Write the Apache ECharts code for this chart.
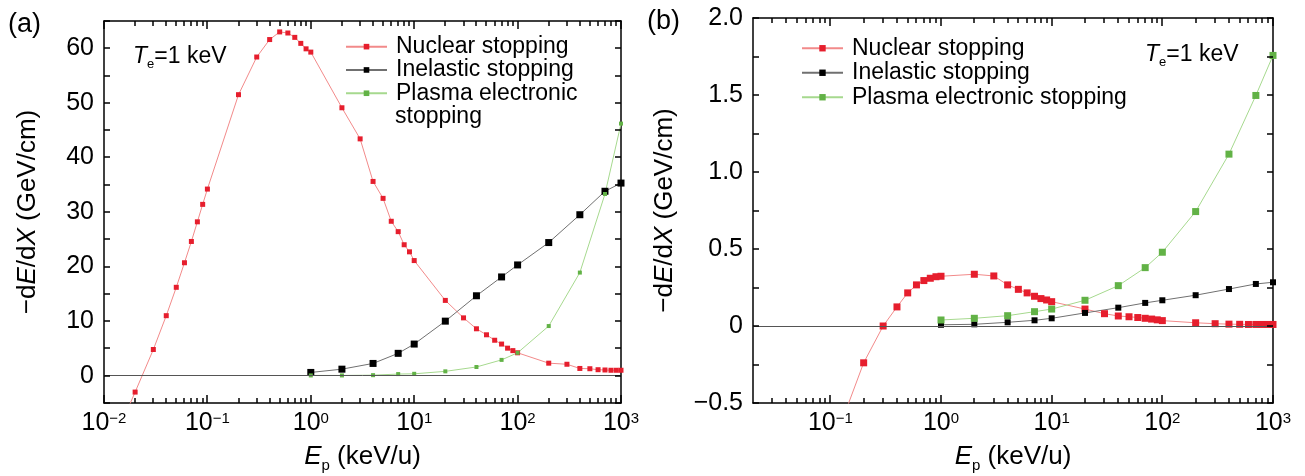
<!DOCTYPE html>
<html><head><meta charset="utf-8">
<script src="https://cdn.jsdelivr.net/npm/echarts@6/dist/echarts.min.js"></script>
<style>html,body{margin:0;padding:0;background:#fff}#c{width:1305px;height:476px}</style>
</head><body><div id="c"></div>
<script>
// ---------- Panel (a) data ----------
const aNucE = [0.01,0.02,0.03,0.04,0.05,0.06,0.07,0.08,0.09,0.1,0.2,0.3,0.4,0.5,0.6,0.7,0.8,0.9,1,2,3,4,5,6,7,8,9,10,20,30,40,50,60,70,80,90,100,200,300,400,500,600,700,800,900,1000];
const aNuc  = [-16,-3.0,4.8,11.0,16.2,20.7,24.6,28.2,31.4,34.2,51.5,58.4,61.6,63.0,62.8,62.0,60.9,59.9,59.3,49.1,43.4,35.6,32.5,28.3,26.4,24.0,22.7,21.1,13.8,10.6,8.6,7.5,6.5,5.8,5.05,4.6,4.2,2.3,2.1,1.33,1.28,1.1,1.05,1.0,1.0,1.0];
const aOthE = [1,2,4,7,10,20,40,70,100,200,400,700,1000];
const aInel = [0.6,1.2,2.25,4.1,5.8,10.0,14.65,18.1,20.3,24.4,29.5,33.8,35.3];
const aPlas = [0.05,0.05,0.1,0.3,0.35,0.8,1.6,2.9,4.2,9.1,18.9,33.3,46.2];
// ---------- Panel (b) data ----------
const bNucE = [0.1,0.2,0.3,0.4,0.5,0.6,0.7,0.8,0.9,1,2,3,4,5,6,7,8,9,10,20,30,40,50,60,70,80,90,100,200,300,400,500,600,700,800,900,1000];
const bNuc  = [-0.82,-0.239,0,0.124,0.215,0.267,0.295,0.31,0.32,0.323,0.336,0.325,0.267,0.238,0.215,0.193,0.178,0.169,0.158,0.11,0.08,0.065,0.06,0.055,0.05,0.045,0.04,0.035,0.021,0.015,0.012,0.011,0.01,0.01,0.01,0.01,0.01];
const bOthE = [1,2,4,7,10,20,40,70,100,200,400,700,1000];
const bInel = [0.008,0.011,0.024,0.037,0.05,0.085,0.119,0.15,0.167,0.2,0.24,0.273,0.284];
const bPlas = [0.039,0.05,0.067,0.093,0.11,0.167,0.262,0.379,0.479,0.743,1.116,1.497,1.757];
// ---------- tick values ----------
const xMajorA = [0.01,0.1,1,10,100,1000];
const xMajorB = [0.1,1,10,100,1000];
const xMinorA = [0.02,0.03,0.04,0.05,0.06,0.07,0.08,0.09,0.2,0.3,0.4,0.5,0.6,0.7,0.8,0.9,2,3,4,5,6,7,8,9,20,30,40,50,60,70,80,90,200,300,400,500,600,700,800,900];
const xMinorB = [0.03,0.04,0.05,0.06,0.07,0.08,0.09,0.2,0.3,0.4,0.5,0.6,0.7,0.8,0.9,2,3,4,5,6,7,8,9,20,30,40,50,60,70,80,90,200,300,400,500,600,700,800,900];
const yTicksA = [-5,0,5,10,15,20,25,30,35,40,45,50,55,60,65];
const yTicksB = [-0.5,-0.25,0,0.25,0.5,0.75,1.0,1.25,1.5,1.75,2.0];
const seriesNames = ['Nuclear stopping','Inelastic stopping','Plasma electronic stopping'];

const FONT = "'Liberation Sans', Arial, sans-serif";
const RED = '#e61e2d', RED_L = '#f28a8a';
const BLK = '#000000', BLK_L = '#707070';
const GRN = '#62b246', GRN_L = '#a6d98e';

const zip = (xs, ys) => xs.map((x, i) => [x, ys[i]]);

function pow10Label(v) {
  const e = Math.round(Math.log10(v));
  return '{n|10}{sup|' + (e < 0 ? '\u2212' + (-e) : String(e)) + '}';
}
const richX = {
  n: {fontSize: 25, lineHeight: 30, fontFamily: FONT, color: '#000'},
  sup: {fontSize: 15, lineHeight: 15, verticalAlign: 'top', fontFamily: FONT, color: '#000', padding: [3, 0, 0, 0]}
};
const nameRich = {
  n: {fontSize: 26, lineHeight: 32, fontFamily: FONT, color: '#000'},
  it: {fontSize: 26, lineHeight: 32, fontFamily: FONT, fontStyle: 'italic', color: '#000'},
  sub: {fontSize: 15, lineHeight: 16, verticalAlign: 'bottom', fontFamily: FONT, color: '#000'}
};
function axLine() { return {show: true, onZero: false, lineStyle: {color: '#000', width: 1.5}}; }

function xAxes(grid, min, max, majors) {
  return [
    {type: 'log', logBase: 10, gridIndex: grid, min: min, max: max, position: 'bottom',
     splitLine: {show: false}, axisLine: axLine(), axisTick: {show: false},
     axisLabel: {show: true, customValues: majors, margin: 5, formatter: pow10Label, rich: richX},
     name: '{it|E}{sub|p}{n| (keV/u)}', nameLocation: 'middle', nameGap: 38, nameTextStyle: {rich: nameRich}},
    {type: 'log', logBase: 10, gridIndex: grid, min: min, max: max, position: 'top',
     splitLine: {show: false}, axisLine: axLine(), axisTick: {show: false}, axisLabel: {show: false}}
  ];
}
function yAxes(grid, min, max, interval, fmt, nameGap) {
  const base = () => ({type: 'value', gridIndex: grid, min: min, max: max, interval: interval,
    splitLine: {show: false}, axisLine: axLine(), axisTick: {show: false}});
  return [
    Object.assign(base(), {position: 'left',
      axisLabel: {show: true, formatter: fmt, fontSize: 25, fontFamily: FONT, color: '#000', margin: 10},
      name: '{n|\u2212d}{it|E}{n|/d}{it|X}{n| (GeV/cm)}', nameLocation: 'middle', nameGap: nameGap, nameRotate: 90,
      nameTextStyle: {rich: nameRich}}),
    Object.assign(base(), {position: 'right', axisLabel: {show: false}})
  ];
}
const fmtA = v => (Math.round(v) % 10 === 0 ? String(Math.round(v)) : '');
const fmtB = v => {
  const r = Math.round(v * 100) / 100;
  if (Math.abs(r % 0.5) > 1e-9) return '';
  if (r === 0) return '0';
  return (r < 0 ? '\u2212' : '') + Math.abs(r).toFixed(1);
};

function lineSeries(name, data, xi, yi, color, lineColor, size, zero) {
  const s = {
    name: name, type: 'line', xAxisIndex: xi, yAxisIndex: yi, data: data,
    symbol: 'rect', symbolSize: size, showSymbol: true,
    itemStyle: {color: color}, lineStyle: {color: lineColor, width: 1}
  };
  if (zero) {
    s.markLine = {silent: true, symbol: ['none', 'none'], label: {show: false},
      lineStyle: {color: '#555', width: 1, type: 'solid'}, data: [{yAxis: 0}]};
  }
  return s;
}

// Tick marks drawn through the axes' own scales (api.coord); kind 0 = major x, 1 = minor x, 2 = y tick
function tickData(xMaj, xMin, yT, yRef, xRef) {
  return [].concat(
    xMaj.map(v => [v, yRef, 0]),
    xMin.map(v => [v, yRef, 1]),
    yT.map(v => [xRef, v, 2]));
}
function renderTick(params, api) {
  const cs = params.coordSys;
  const kind = api.value(2);
  const p = api.coord([api.value(0), api.value(1)]);
  const st = {stroke: '#000', lineWidth: 1.5};
  if (kind < 2) {
    const len = kind === 0 ? 8 : 5;
    const x = Math.round(p[0]);
    const yb = cs.y + cs.height, yt = cs.y;
    return {type: 'group', children: [
      {type: 'line', shape: {x1: x, y1: yb, x2: x, y2: yb - len}, style: st},
      {type: 'line', shape: {x1: x, y1: yt, x2: x, y2: yt + len}, style: st}]};
  }
  const y = Math.round(p[1]);
  const xl = cs.x, xr = cs.x + cs.width;
  return {type: 'group', children: [
    {type: 'line', shape: {x1: xl, y1: y, x2: xl + 6, y2: y}, style: st},
    {type: 'line', shape: {x1: xr, y1: y, x2: xr - 6, y2: y}, style: st}]};
}
function tickSeries(xi, yi, data) {
  return {type: 'custom', xAxisIndex: xi, yAxisIndex: yi, data: data, renderItem: renderTick,
          silent: true, clip: false, z: 5, tooltip: {show: false}};
}

const legendText = {fontSize: 23, fontFamily: FONT, color: '#000', padding: [0, 0, 0, 4]};
const teRich = {
  n: {fontSize: 23, lineHeight: 28, fontFamily: FONT, fill: '#000'},
  it: {fontSize: 23, lineHeight: 28, fontFamily: FONT, fontStyle: 'italic', fill: '#000'},
  sub: {fontSize: 13, lineHeight: 14, verticalAlign: 'bottom', fontFamily: FONT, fill: '#000'}
};

const option = {
  animation: false,
  grid: [
    {left: 104, top: 21, width: 517, height: 382, outerBoundsMode: 'none'},
    {left: 753, top: 18, width: 520, height: 385, outerBoundsMode: 'none'}
  ],
  xAxis: [].concat(xAxes(0, 0.01, 1000, xMajorA), xAxes(1, 0.02, 1000, xMajorB)),
  yAxis: [].concat(yAxes(0, -5, 65, 5, fmtA, 60), yAxes(1, -0.5, 2.0, 0.25, fmtB, 72)),
  legend: [
    {orient: 'vertical', left: 345, top: 35, padding: 0, itemGap: 0, itemWidth: 41, itemHeight: 7,
     data: seriesNames, selectedMode: false,
     formatter: n => (n === 'Plasma electronic stopping' ? 'Plasma electronic' : n),
     textStyle: Object.assign({lineHeight: 23.3}, legendText)},
    {orient: 'vertical', left: 801, top: 36, padding: 0, itemGap: 0, itemWidth: 41, itemHeight: 8,
     data: seriesNames, selectedMode: false,
     textStyle: Object.assign({lineHeight: 24.5}, legendText)}
  ],
  series: [
    lineSeries(seriesNames[0], zip(aNucE, aNuc), 0, 0, RED, RED_L, 5, true),
    lineSeries(seriesNames[1], zip(aOthE, aInel), 0, 0, BLK, BLK_L, 7, false),
    lineSeries(seriesNames[2], zip(aOthE, aPlas), 0, 0, GRN, GRN_L, 4, false),
    lineSeries(seriesNames[0], zip(bNucE, bNuc), 2, 2, RED, RED_L, 7, true),
    lineSeries(seriesNames[1], zip(bOthE, bInel), 2, 2, BLK, BLK_L, 6, false),
    lineSeries(seriesNames[2], zip(bOthE, bPlas), 2, 2, GRN, GRN_L, 7, false),
    tickSeries(0, 0, tickData(xMajorA, xMinorA, yTicksA, -5, 1000)),
    tickSeries(2, 2, tickData(xMajorB, xMinorB, yTicksB, -0.5, 1000))
  ],
  graphic: [
    {type: 'text', x: 8, y: 25, style: {text: '(a)', fontSize: 27, fontFamily: FONT, fill: '#000', verticalAlign: 'middle'}},
    {type: 'text', x: 647, y: 22, style: {text: '(b)', fontSize: 27, fontFamily: FONT, fill: '#000', verticalAlign: 'middle'}},
    {type: 'text', x: 395, y: 116.7, style: {text: 'stopping', fontSize: 23, fontFamily: FONT, fill: '#000', verticalAlign: 'middle'}},
    {type: 'text', x: 133, y: 57, style: {text: '{it|T}{sub|e}{n|=1 keV}', verticalAlign: 'middle', rich: teRich}},
    {type: 'text', x: 1145, y: 55, style: {text: '{it|T}{sub|e}{n|=1 keV}', verticalAlign: 'middle', rich: teRich}}
  ]
};
const chart = echarts.init(document.getElementById('c'));
chart.setOption(option);
</script>
</body></html>
